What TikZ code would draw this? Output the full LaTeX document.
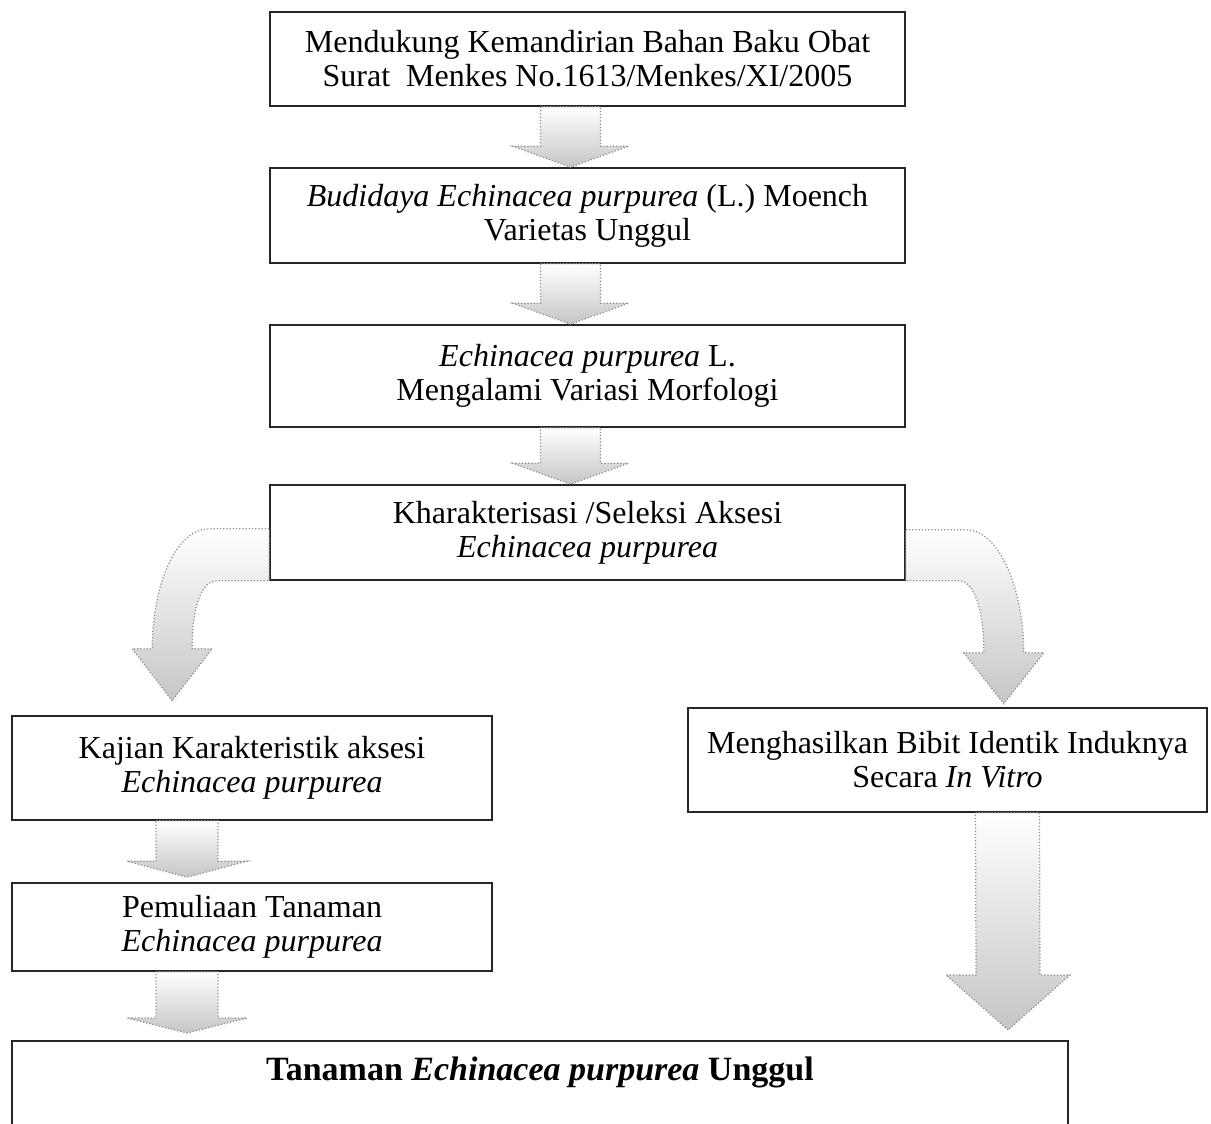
\documentclass[tikz,border=0pt]{standalone}
\usepackage{fontspec}
\setmainfont{Liberation Serif}
\usetikzlibrary{calc}

\tikzset{
  box/.style={draw=black!85, line width=0.8pt, align=center, inner sep=0pt,
    font=\fontsize{16}{17}\selectfont},
  arrowblock/.style={draw=gray!90, densely dotted, line width=0.6pt,
    top color=white, bottom color=gray!45},
}

% block arrow pointing down: top point, tip point, shaft half width, head half width, head length
\newcommand{\vblock}[5]{%
  \path[arrowblock] ($(#1)+(-#3,0)$) -- ($(#1)+(#3,0)$) -- ($(#2)+(#3,-#5)$)
    -- ($(#2)+(#4,-#5)$) -- (#2) -- ($(#2)+(-#4,-#5)$) -- ($(#2)+(-#3,-#5)$) -- cycle;}

\begin{document}
\begin{tikzpicture}[x=0.5pt,y=-0.5pt]
\useasboundingbox (0,0) rectangle (1211,1124);

\node[box, minimum width=317.5pt, minimum height=47pt] (mandiri) at (587.5,59)
  {Mendukung Kemandirian Bahan Baku Obat\\Surat\ \ Menkes No.1613/Menkes/XI/2005};
\node[box, minimum width=317.5pt, minimum height=47.5pt] (budidaya) at (587.5,215.5)
  {\textit{Budidaya Echinacea purpurea} (L.) Moench\\Varietas Unggul};
\node[box, minimum width=317.5pt, minimum height=51pt] (variasi) at (587.5,376)
  {\textit{Echinacea purpurea} L.\\Mengalami Variasi Morfologi};
\node[box, minimum width=317.5pt, minimum height=47.5pt] (seleksi) at (587.5,532.5)
  {Kharakterisasi /Seleksi Aksesi\\\textit{Echinacea purpurea}};
\node[box, minimum width=240pt, minimum height=52pt] (kajian) at (252,768)
  {Kajian Karakteristik aksesi\\\textit{Echinacea purpurea}};
\node[box, minimum width=259.5pt, minimum height=52pt] (bibit) at (947.5,760)
  {Menghasilkan Bibit Identik Induknya\\Secara \textit{In Vitro}};
\node[box, minimum width=240pt, minimum height=44pt] (pemuliaan) at (252,927)
  {Pemuliaan Tanaman\\\textit{Echinacea purpurea}};
\node[box, anchor=north, minimum width=528pt, text height=20pt, text depth=40pt,
  font=\fontsize{17}{18}\selectfont\bfseries] (unggul) at (540,1040)
  {Tanaman \textit{Echinacea purpurea} Unggul};

% straight block arrows
\coordinate (a1) at ($(mandiri.south)+(-17,0)$);
\coordinate (t1) at ($(budidaya.north)+(-17,0)$);
\coordinate (a2) at ($(budidaya.south)+(-17,0)$);
\coordinate (t2) at ($(variasi.north)+(-17,0)$);
\coordinate (a3) at ($(variasi.south)+(-17,0)$);
\coordinate (t3) at ($(seleksi.north)+(-17,0)$);
\coordinate (a5) at ($(kajian.south)+(-65,0)$);
\coordinate (t5) at ($(pemuliaan.north)+(-65,-5)$);
\coordinate (a7) at ($(pemuliaan.south)+(-65,0)$);
\coordinate (t7) at ($(unggul.north)+(-353,-7)$);
\coordinate (a6) at ($(bibit.south)+(60,0)$);
\coordinate (t6) at ($(unggul.north)+(468,-10)$);

\vblock{a1}{t1}{30}{58}{21}
\vblock{a2}{t2}{30}{58}{21}
\vblock{a3}{t3}{30}{58}{21}
\vblock{a5}{t5}{31}{60}{16}
\vblock{a7}{t7}{31}{60}{15}
\vblock{a6}{t6}{32}{62}{55}

% curved block arrows
\path[arrowblock] ($(seleksi.south west)+(0,-52)$) -- ++(-60,0)
  .. controls +(-35,0) and +(0,-60) .. ++(-57,120) -- ++(-20,0) -- ++(40,52)
  -- ++(40,-52) -- ++(-20,0) .. controls +(0,-45) and +(-15,0) .. ++(25,-68)
  -- (seleksi.south west) -- cycle;
\path[arrowblock] ($(seleksi.south east)+(0,-51)$) -- ++(60,0)
  .. controls +(35,0) and +(0,-60) .. ++(58,123) -- ++(20,0) -- ++(-40,51)
  -- ++(-40,-51) -- ++(20,0) .. controls +(0,-45) and +(15,0) .. ++(-25,-72)
  -- (seleksi.south east) -- cycle;

\end{tikzpicture}
\end{document}
